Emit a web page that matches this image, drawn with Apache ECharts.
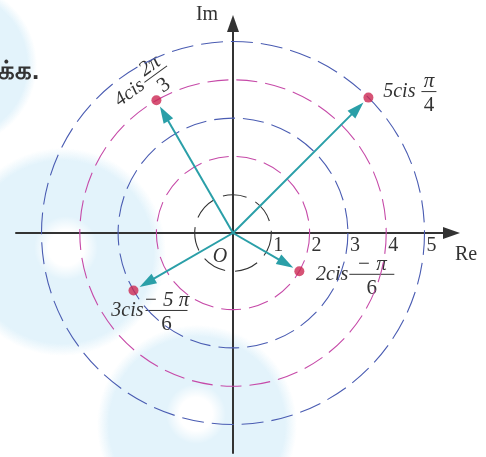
<!DOCTYPE html>
<html>
<head>
<meta charset="utf-8">
<script src="https://cdn.jsdelivr.net/npm/echarts@6/dist/echarts.min.js"></script>
<style>
  html, body { margin: 0; padding: 0; background: #fff; }
  #argandChart { width: 486px; height: 457px; }
</style>
</head>
<body>
<div id="argandChart"></div>
<script>
// complex numbers r cis(num*pi/den)
const moduli = [5, 4, 3, 2]
const argNum = [1, 2, -5, -1]
const argDen = [4, 3, 6, 6]
const numerText = ['π', '2π', '− 5 π', '− π']
const denomText = ['4', '3', '6', '6']
const circleRadii = [1, 2, 3, 4, 5]
const tickValues = [1, 2, 3, 4, 5]
const tickLabels = ['1', '2', '3', '4', '5']

// styling / layout of the point labels (pixels, not data)
const labelLayout = [
  { dx: 53, dy: -6, w: 15, rot: 0, gap: 6 },
  { dx: -12, dy: -18, w: 28, rot: 36, gap: 2 },
  { dx: 12, dy: 20, w: 42, rot: 0, gap: 2 },
  { dx: 50, dy: 3, w: 45, rot: 0, gap: 1 }
]
const circleColors = ['#333333', '#c64aa8', '#4a5cb2', '#c64aa8', '#4a5cb2']
const circleDash = [[24, 10], [20, 8], [21, 8], [21, 8], [22, 8]]

const pointData = moduli.map((r, i) => {
  const t = (argNum[i] * Math.PI) / argDen[i]
  return [r * Math.cos(t), r * Math.sin(t)]
})

const serif = 'Liberation Serif'
const textColor = '#333333'
const teal = '#2a9fa8'

function txt(s, x, y, size, italic, align) {
  return {
    type: 'text',
    x: x,
    y: y,
    style: {
      text: s,
      fontFamily: serif, fontSize: size, fontStyle: italic ? 'italic' : 'normal',
      fill: textColor,
      align: align || 'center', verticalAlign: 'middle'
    }
  }
}

const blobFill = (c0, stop) => ({
  type: 'radial', x: 0.5, y: 0.5, r: 0.5,
  colorStops: [{ offset: 0, color: c0 }, { offset: stop, color: c0 }, { offset: 1, color: c0.replace('1)', '0)') }]
})

const chart = echarts.init(document.getElementById('argandChart'))
chart.setOption({
  animation: false,
  textStyle: { fontFamily: serif },
  grid: { left: 16, right: 34.5, top: 23.5, bottom: 4 },
  xAxis: {
    type: 'value', min: -5.666, max: 5.705,
    axisLine: { lineStyle: { color: '#333', width: 2 }, symbol: ['none', 'triangle'], symbolSize: [12, 17] },
    axisTick: { show: false }, axisLabel: { show: false }, splitLine: { show: false }
  },
  yAxis: {
    type: 'value', min: -5.744, max: 5.470,
    axisLine: { lineStyle: { color: '#333', width: 2 }, symbol: ['none', 'triangle'], symbolSize: [12, 17] },
    axisTick: { show: false }, axisLabel: { show: false }, splitLine: { show: false }
  },
  series: [
    {
      // dashed modulus circles
      type: 'custom',
      data: circleRadii.map((r) => [r, 0]),
      z: 1,
      silent: true,
      renderItem(params, api) {
        const c = api.coord([0, 0])
        const r = api.size([api.value(0), 0])[0]
        const i = params.dataIndex
        return {
          type: 'circle',
          shape: { cx: c[0], cy: c[1], r: r },
          style: { fill: null, stroke: circleColors[i], lineWidth: 1.1, lineDash: circleDash[i] }
        }
      }
    },
    {
      // vectors from origin
      type: 'custom',
      data: pointData,
      z: 4,
      renderItem(params, api) {
        const o = api.coord([0, 0])
        const p = api.coord([api.value(0), api.value(1)])
        const dx = p[0] - o[0]
        const dy = p[1] - o[1]
        const len = Math.hypot(dx, dy)
        const ux = dx / len
        const uy = dy / len
        const tip = [p[0] - ux * 7, p[1] - uy * 7]
        const base = [tip[0] - ux * 17, tip[1] - uy * 17]
        const hw = 5.5
        return {
          type: 'group',
          children: [
            { type: 'line', shape: { x1: o[0], y1: o[1], x2: base[0] + ux * 2, y2: base[1] + uy * 2 }, style: { stroke: teal, lineWidth: 2 } },
            { type: 'polygon', shape: { points: [tip, [base[0] - uy * hw, base[1] + ux * hw], [base[0] + uy * hw, base[1] - ux * hw]] }, style: { fill: teal } }
          ]
        }
      }
    },
    {
      type: 'scatter',
      data: pointData,
      symbolSize: 10,
      z: 5,
      itemStyle: { color: '#cc2853' }
    }
  ]
})

// texts placed through the grid's own coordinate conversion
const toPx = (v) => chart.convertToPixel({ gridIndex: 0 }, v)
const origin = toPx([0, 0])
const graphics = [
  { type: 'circle', z: -10, shape: { cx: -45, cy: 65, r: 82 }, style: { fill: blobFill('rgba(227,243,251,1)', 0.88) } },
  { type: 'circle', z: -10, shape: { cx: 62, cy: 252, r: 104 }, style: { fill: blobFill('rgba(227,243,251,1)', 0.88) } },
  { type: 'circle', z: -10, shape: { cx: 197, cy: 425, r: 100 }, style: { fill: blobFill('rgba(227,243,251,1)', 0.88) } },
  { type: 'circle', z: -9, shape: { cx: 66, cy: 248, r: 32 }, style: { fill: blobFill('rgba(255,255,255,1)', 0.55) } },
  { type: 'circle', z: -9, shape: { cx: 196, cy: 414, r: 30 }, style: { fill: blobFill('rgba(255,255,255,1)', 0.55) } },
  { type: 'text', x: -2, y: 72, style: { text: 'க்க.', fontSize: 26, fontWeight: 'bold', fill: '#333', verticalAlign: 'middle' } },
  txt('Im', origin[0] - 26, 15, 20, false),
  txt('Re', 466, origin[1] + 22, 20, false),
  txt('O', origin[0] - 13, origin[1] + 24, 20, true)
]
tickValues.forEach((v, i) => {
  const p = toPx([v, 0])
  graphics.push(txt(tickLabels[i], p[0] + 7, p[1] + 13, 20, false))
})
pointData.forEach((pt, i) => {
  const L = labelLayout[i]
  const p = toPx(pt)
  graphics.push({
    type: 'group',
    x: p[0] + L.dx,
    y: p[1] + L.dy,
    rotation: (L.rot * Math.PI) / 180,
    children: [
      txt(moduli[i] + 'cis', -L.gap, 0, 20, true, 'right'),
      { type: 'line', shape: { x1: 0, y1: 0, x2: L.w, y2: 0 }, style: { stroke: textColor, lineWidth: 1 } },
      txt(numerText[i], L.w / 2, -10, 21, true),
      txt(denomText[i], L.w / 2, 14, 21, false)
    ]
  })
})
chart.setOption({ graphic: graphics })
</script>
</body>
</html>
